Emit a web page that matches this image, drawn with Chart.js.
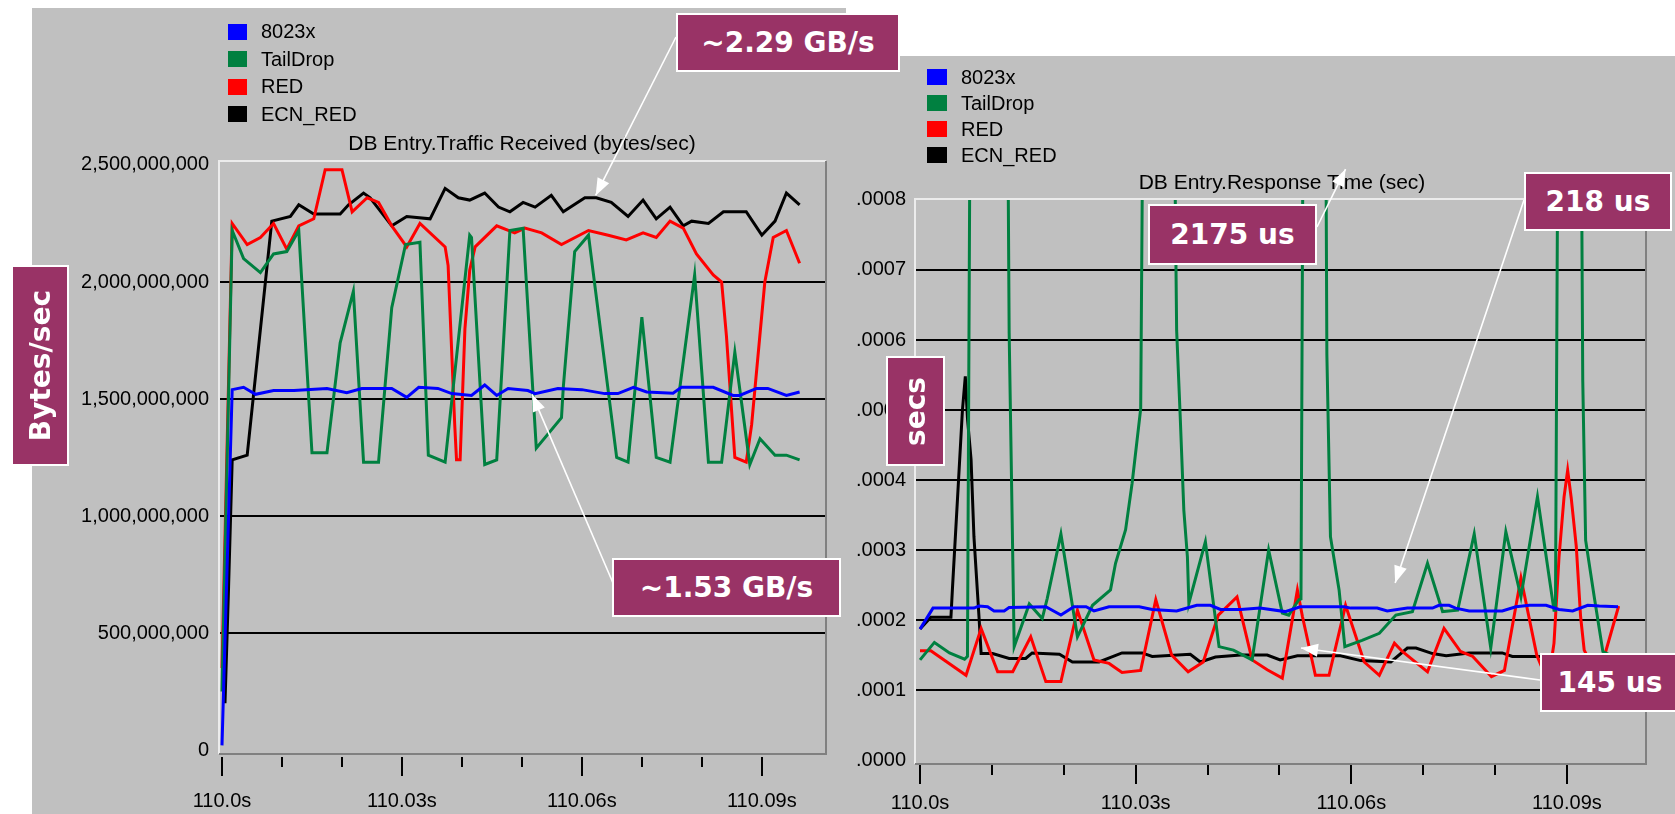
<!DOCTYPE html>
<html>
<head>
<meta charset="utf-8">
<script src="https://cdn.jsdelivr.net/npm/chart.js@4.4.1/dist/chart.umd.min.js"></script>
<style>
  html, body { margin: 0; padding: 0; background: #fff; }
  body { width: 1675px; height: 814px; position: relative; overflow: hidden;
         font-family: "Liberation Sans", Arial, sans-serif; }
  .panel { position: absolute; background: #c0c0c0; }
  .panel canvas { position: absolute; left: 0; top: 0; }
  .legend { position: absolute; font-size: 20px; color: #000; }
  .legend .row { display: flex; align-items: center; }
  .legend .sw { display: inline-block; height: 16px; }
  .ctitle { position: absolute; font-size: 21px; color: #000; white-space: nowrap; transform: translate(-50%, -50%); }
  #arrows { position: absolute; left: 0; top: 0; }
  .note { position: absolute; box-sizing: border-box; background: #993366; border: 2px solid #fff;
          color: #fff; font: bold 28px "DejaVu Sans", sans-serif; display: flex;
          align-items: center; justify-content: center; white-space: nowrap; }
  .note.vert span { writing-mode: vertical-rl; transform: rotate(180deg); }
</style>
</head>
<body>
<div class="panel" id="leftPanel" style="left:32px;top:8px;width:814px;height:806px;">
  <canvas id="rxChart" width="814" height="806"></canvas>
</div>
<div class="panel" id="rightPanel" style="left:844px;top:56px;width:831px;height:758px;">
  <canvas id="rtChart" width="831" height="758"></canvas>
</div>
<div class="legend" id="rxLegend" style="left:228px;top:18px;"></div>
<div class="legend" id="rtLegend" style="left:927px;top:64px;"></div>
<div class="ctitle" style="left:522px;top:143px;">DB Entry.Traffic Received (bytes/sec)</div>
<div class="ctitle" style="left:1282px;top:182px;">DB Entry.Response Time (sec)</div>
<svg id="arrows" width="1675" height="814"></svg>
<div id="notes"></div>

<script>
// series shared by both charts
const seriesNames = ['8023x', 'TailDrop', 'RED', 'ECN_RED'];
const seriesColors = ['#0000ff', '#008040', '#ff0000', '#000000'];

// x values are milliseconds after 110.0 s
const xTicksMs = [0, 10, 20, 30, 40, 50, 60, 70, 80, 90];
const xLabelMs = [0, 30, 60, 90];
const xTickLabels = ['110.0s', '110.03s', '110.06s', '110.09s'];

// left chart: traffic received, in units of 1e9 bytes/sec
const rxYTicks = [0, 0.5, 1, 1.5, 2, 2.5];
const rx8023x = [[0,0.02],[1.7,1.54],[3.6,1.55],[5.6,1.52],[8.6,1.536],[12,1.536],[17.5,1.545],[20.8,1.527],[23.3,1.545],[28.3,1.545],[30.8,1.507],[32.8,1.55],[36,1.545],[38.3,1.523],[41.6,1.515],[43.8,1.56],[45.8,1.515],[47.7,1.545],[51,1.536],[52.2,1.523],[56,1.545],[60,1.54],[63.8,1.523],[66,1.523],[68.6,1.55],[70.8,1.53],[75.2,1.525],[76.6,1.55],[81.9,1.55],[85.2,1.515],[86.3,1.515],[89.1,1.545],[91,1.545],[94.1,1.515],[96.3,1.53]];
const rxTailDrop = [[0,0.25],[1.7,2.22],[3.6,2.10],[6.4,2.04],[8.6,2.12],[10.8,2.13],[12.8,2.22],[15,1.27],[17.5,1.27],[19.7,1.74],[21.9,1.96],[23.6,1.23],[26.1,1.23],[28.3,1.89],[30.6,2.16],[33,2.17],[34.4,1.26],[37.2,1.23],[41.3,2.2],[41.6,2.19],[43.8,1.22],[45.8,1.24],[48,2.22],[50.2,2.23],[52.4,1.29],[56.6,1.42],[56.9,1.55],[58.8,2.13],[61.1,2.2],[65.8,1.25],[67.7,1.23],[70,1.85],[72.4,1.25],[74.7,1.23],[78.8,2.03],[81.1,1.23],[83.3,1.23],[85.5,1.70],[88,1.22],[89.7,1.33],[92.2,1.26],[94.1,1.26],[96.3,1.24]];
const rxRed = [[0,0.35],[1.7,2.25],[4.2,2.16],[6.4,2.19],[8.6,2.25],[10.8,2.14],[12.8,2.24],[15.3,2.27],[17.2,2.48],[20,2.48],[21.7,2.30],[24.2,2.36],[26.1,2.34],[28.3,2.24],[30.8,2.15],[33,2.25],[37.2,2.15],[37.7,2.07],[38.8,1.39],[39.1,1.24],[39.7,1.24],[40.5,1.80],[41.3,2.05],[42.2,2.15],[45.8,2.24],[48.8,2.21],[50.5,2.23],[53.3,2.21],[56.6,2.16],[61.1,2.22],[64.4,2.20],[67.4,2.18],[70.2,2.21],[72.4,2.19],[74.7,2.26],[76.9,2.23],[79.1,2.12],[81.9,2.03],[83.3,2.0],[84.1,1.77],[85.5,1.25],[87.4,1.23],[88.3,1.39],[90.5,2.0],[91.9,2.19],[94.1,2.22],[96.3,2.08]];
const rxEcnRed = [[0.5,0.2],[1.1,0.7],[1.7,1.24],[4.2,1.26],[8.3,2.26],[11.4,2.28],[12.8,2.33],[15.3,2.29],[19.7,2.29],[21.1,2.33],[23.6,2.38],[24.7,2.36],[28.3,2.24],[30.8,2.28],[34.7,2.27],[37.2,2.40],[39.4,2.36],[41.3,2.35],[43.8,2.38],[46.1,2.32],[48,2.30],[50.2,2.34],[52.2,2.32],[54.9,2.37],[56.9,2.30],[60.5,2.36],[62.4,2.36],[64.9,2.34],[67.7,2.28],[70.2,2.35],[72.4,2.27],[74.7,2.32],[76.9,2.24],[78.3,2.26],[81.1,2.25],[83.6,2.30],[87.4,2.30],[90,2.20],[92.2,2.26],[94.1,2.38],[96.3,2.33]];

// right chart: response time, in microseconds (spikes run off the top)
const rtYTicks = [0, 100, 200, 300, 400, 500, 600, 700, 800];
const rt8023x = [[0,187],[1.8,217],[7.5,217],[8.2,220],[9.4,219],[10.3,213],[11.7,213],[12.4,218],[17.5,219],[19.6,207],[21.4,219],[23.1,219],[24.2,213],[26.3,219],[30.5,219],[32.3,215],[35.7,213],[38.5,221],[40.4,221],[41.8,215],[44.6,215],[47.3,217],[50.8,212],[52.9,219],[59,219],[59.9,217],[63.6,217],[65,213],[67.8,217],[71.3,217],[72.2,221],[73.6,221],[74.5,217],[76.4,213],[81,213],[82.9,219],[84.8,221],[87.1,221],[88.9,215],[90.8,213],[92.9,221],[94.5,220],[97.1,219]];
const rtTailDrop = [[0,143],[2,168],[4.1,153],[6.2,144],[6.6,148],[7.4,1900],[11.6,1900],[12.4,610],[13.1,162],[15.2,223],[17,202],[17.7,231],[19.6,323],[21.9,176],[24,221],[26.5,243],[27.2,281],[28.6,329],[29.5,395],[30.7,502],[31.6,1800],[34.6,1700],[35.7,614],[36.2,490],[36.7,357],[37.2,290],[37.4,224],[39.7,312],[41.6,162],[43.6,157],[46.2,143],[48.5,300],[50.4,210],[51.3,207],[52.7,229],[53.0,230],[53.8,2175],[56.0,2000],[56.6,580],[57.1,319],[58.3,243],[59.1,162],[61.5,171],[63.9,181],[66.2,207],[68.5,212],[70.6,281],[72.7,212],[74.8,214],[77.1,323],[79.4,160],[81.5,326],[83.6,233],[85.9,376],[88.2,214],[88.4,214],[89.2,1850],[91.5,1800],[92.2,543],[92.6,314],[93.8,233],[95,155],[97,145]];
const rtRed = [[0,156],[1.5,156],[6.4,121],[8.5,188],[10.8,126],[12.9,126],[15.4,176],[17.5,112],[19.6,112],[21.9,214],[24.2,143],[26.3,138],[28.1,125],[30.7,128],[32.8,229],[35,150],[37.3,126],[39.4,140],[41.5,207],[44.1,233],[46.2,143],[48.3,129],[50.4,117],[52.5,243],[53.2,205],[55,121],[56.9,121],[59.2,221],[61.8,140],[63.9,121],[66,167],[67.1,155],[70.6,126],[72.9,188],[75.2,155],[76.9,148],[79.5,119],[81.3,128],[83.6,260],[85.8,150],[86.8,125],[87.6,125],[88.2,167],[88.9,290],[89.6,376],[90.1,414],[90.6,374],[91.3,305],[91.9,205],[92.4,157],[93.5,135],[95.4,155],[97.2,220]];
const rtEcnRed = [[0,187],[1.5,204],[4.3,204],[4.5,243],[5.2,371],[5.9,500],[6.3,548],[6.6,488],[7.1,429],[7.5,319],[8.2,205],[8.5,152],[10.1,152],[12.4,145],[14.7,145],[15.6,153],[19.4,151],[21.2,140],[24.9,140],[28.1,153],[30.9,153],[32.3,148],[37.6,151],[39,140],[41.1,147],[44.6,150],[48.3,150],[50.1,143],[52.5,149],[58.5,149],[61.3,142],[65.5,140],[67.8,160],[69,160],[71.3,152],[73.2,149],[76.4,153],[81,153],[82.4,148],[89.4,148],[97,150]];

// call-out boxes; tip is in the data units of the chart it points at
const notes = [
  { text: '~2.29 GB/s', box: [676, 13, 224, 59], chart: 'rx', tail: [676, 37], tip: [62.3, 2.37] },
  { text: '~1.53 GB/s', box: [612, 558, 229, 59], chart: 'rx', tail: [613, 583], tip: [51.7, 1.52] },
  { text: 'Bytes/sec', box: [11, 265, 58, 201], vertical: true },
  { text: 'secs', box: [886, 356, 59, 110], vertical: true },
  { text: '2175 us', box: [1148, 204, 169, 61], chart: 'rt', tail: [1317, 227], tip: [59.2, 844] },
  { text: '218 us', box: [1524, 172, 148, 59], chart: 'rt', tail: [1524, 200], tip: [66.1, 253] },
  { text: '145 us', box: [1540, 653, 140, 59], chart: 'rt', tail: [1540, 680], tip: [53, 160] }
];

Chart.defaults.font.family = '"Liberation Sans", Arial, sans-serif';
Chart.defaults.font.size = 20;
Chart.defaults.color = '#000';

function fillLegend(id, rowH, swW, gap) {
  const el = document.getElementById(id);
  seriesNames.forEach((name, i) => {
    const row = document.createElement('div');
    row.className = 'row';
    row.style.height = rowH + 'px';
    row.innerHTML = '<span class="sw" style="width:' + swW + 'px;background:' + seriesColors[i] +
      ';margin-right:' + gap + 'px"></span>' + name;
    el.appendChild(row);
  });
}
fillLegend('rxLegend', 27.5, 19, 14);
fillLegend('rtLegend', 26, 20, 14);

// plot frame and x tick marks
const framePlugin = {
  id: 'frame',
  afterDraw(chart, args, opts) {
    const { ctx, chartArea: a } = chart;
    ctx.save();
    ctx.lineWidth = 2;
    ctx.strokeStyle = '#ececec';
    ctx.beginPath();
    ctx.moveTo(a.left, a.bottom); ctx.lineTo(a.left, a.top); ctx.lineTo(a.right, a.top);
    ctx.stroke();
    ctx.strokeStyle = '#808080';
    ctx.beginPath();
    ctx.moveTo(a.right, a.top); ctx.lineTo(a.right, a.bottom); ctx.lineTo(a.left, a.bottom);
    ctx.stroke();
    const xs = chart.scales.x;
    ctx.strokeStyle = '#000';
    xTicksMs.forEach(v => {
      const px = Math.round(xs.getPixelForValue(v));
      const len = xLabelMs.includes(v) ? 19 : 10;
      ctx.beginPath();
      ctx.moveTo(px, a.bottom + opts.gap);
      ctx.lineTo(px, a.bottom + opts.gap + len);
      ctx.stroke();
    });
    ctx.restore();
  }
};

function makeChart(id, data, cfg) {
  const datasets = data.map((pts, i) => ({
    label: seriesNames[i],
    data: pts.map(p => ({ x: p[0], y: p[1] })),
    borderColor: seriesColors[i],
    borderWidth: 3,
    pointRadius: 0,
    tension: 0,
    fill: false
  }));
  const yTicks = cfg.yTicks;
  return new Chart(document.getElementById(id), {
    type: 'line',
    data: { datasets },
    plugins: [framePlugin],
    options: {
      responsive: false,
      animation: false,
      events: [],
      layout: { padding: { top: cfg.padTop, right: cfg.padRight, left: 0, bottom: 0 } },
      plugins: { legend: { display: false }, tooltip: { enabled: false }, frame: { gap: cfg.tickGap } },
      scales: {
        x: {
          type: 'linear', min: cfg.xMin, max: cfg.xMax,
          afterBuildTicks: s => { s.ticks = xTicksMs.map(v => ({ value: v })); },
          afterFit: s => { s.height = cfg.xAxisH; },
          grid: { display: false, drawTicks: false },
          border: { display: false },
          ticks: {
            autoSkip: false, maxRotation: 0, padding: cfg.xLabelPad,
            callback: v => { const k = xLabelMs.indexOf(v); return k < 0 ? '' : xTickLabels[k]; }
          }
        },
        y: {
          min: cfg.yMin, max: cfg.yMax,
          afterBuildTicks: s => { s.ticks = yTicks.map(v => ({ value: v })); },
          afterFit: s => { s.width = cfg.yAxisW; },
          grid: {
            drawTicks: false, lineWidth: 2,
            color: c => (c.tick && (c.tick.value === yTicks[0] || c.tick.value === yTicks[yTicks.length - 1])) ? 'rgba(0,0,0,0)' : '#000'
          },
          border: { display: false },
          ticks: { padding: cfg.yLabelPad, callback: cfg.yFormat }
        }
      }
    }
  });
}

const rxChart = makeChart('rxChart', [rx8023x, rxTailDrop, rxRed, rxEcnRed], {
  xMin: -0.5, xMax: 100.7, yMin: -0.017, yMax: 2.517, yTicks: rxYTicks,
  padTop: 153, padRight: 20, xAxisH: 60, yAxisW: 187, yLabelPad: 10, xLabelPad: 35, tickGap: 3,
  yFormat: v => Math.round(v * 1e9).toLocaleString('en-US')
});

const rtChart = makeChart('rtChart', [rt8023x, rtTailDrop, rtRed, rtEcnRed], {
  xMin: -0.7, xMax: 101, yMin: -5.7, yMax: 801.4, yTicks: rtYTicks,
  padTop: 143, padRight: 29, xAxisH: 50, yAxisW: 71, yLabelPad: 9, xLabelPad: 27, tickGap: 1,
  yFormat: v => (v / 1e6).toFixed(4).replace(/^0/, '')
});

// call-outs and their arrows
const charts = { rx: rxChart, rt: rtChart };
const svg = document.getElementById('arrows');
const NS = 'http://www.w3.org/2000/svg';
const holder = document.getElementById('notes');
notes.forEach(n => {
  const d = document.createElement('div');
  d.className = 'note' + (n.vertical ? ' vert' : '');
  d.style.left = n.box[0] + 'px';
  d.style.top = n.box[1] + 'px';
  d.style.width = n.box[2] + 'px';
  d.style.height = n.box[3] + 'px';
  d.innerHTML = '<span>' + n.text + '</span>';
  holder.appendChild(d);
  if (!n.chart) return;
  const ch = charts[n.chart];
  const r = ch.canvas.getBoundingClientRect();
  const tx = r.left + ch.scales.x.getPixelForValue(n.tip[0]);
  const ty = r.top + ch.scales.y.getPixelForValue(n.tip[1]);
  const [sx, sy] = n.tail;
  const line = document.createElementNS(NS, 'line');
  line.setAttribute('x1', sx); line.setAttribute('y1', sy);
  line.setAttribute('x2', tx); line.setAttribute('y2', ty);
  line.setAttribute('stroke', '#fff'); line.setAttribute('stroke-width', '1.6');
  svg.appendChild(line);
  const ang = Math.atan2(ty - sy, tx - sx);
  const L = 17, W = 6.5;
  const bx = tx - L * Math.cos(ang), by = ty - L * Math.sin(ang);
  const head = document.createElementNS(NS, 'polygon');
  head.setAttribute('points', [
    tx + ',' + ty,
    (bx + W * Math.sin(ang)) + ',' + (by - W * Math.cos(ang)),
    (bx - W * Math.sin(ang)) + ',' + (by + W * Math.cos(ang))
  ].join(' '));
  head.setAttribute('fill', '#fff');
  svg.appendChild(head);
});
</script>
</body>
</html>
